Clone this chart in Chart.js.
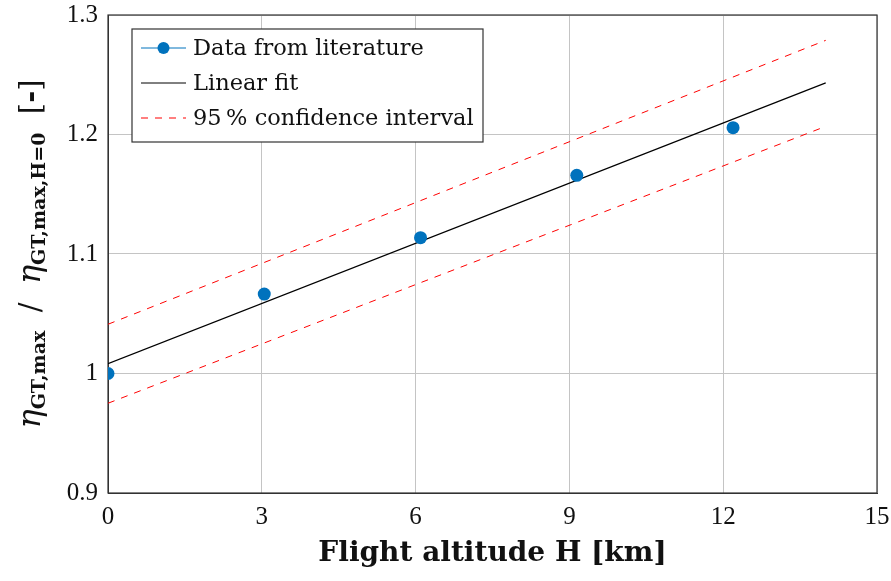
<!DOCTYPE html>
<html lang="en">
<head>
    <meta charset="UTF-8">
    <title>Efficiency vs flight altitude</title>
    <style>
        body { margin: 0; background: #fff; }
        #wrap { width: 891px; height: 581px; }
    </style>
</head>
<body>
    <div id="wrap"><canvas id="myChart" width="891" height="581"></canvas></div>
    <script src="https://cdn.jsdelivr.net/npm/chart.js"></script>
    <script>
        // data
        const altitudes = [0, 3.048, 6.096, 9.144, 12.192];
        const effRatio = [1.0, 1.0665, 1.1137, 1.1658, 1.2057];
        const fitX = [0, 14];
        const fitY = [1.0082, 1.2432];
        const upperY = [1.0412, 1.2788];
        const lowerY = [0.9751, 1.2068];
        const xTicks = [0, 3, 6, 9, 12, 15];
        const yTicks = [0.9, 1.0, 1.1, 1.2, 1.3];
        const legendLabels = ['Data from literature', 'Linear fit', '95\u2009% confidence interval'];

        const serif = '"DejaVu Serif", "Liberation Serif", serif';
        const tickSerif = '"Liberation Serif", serif';
        const blue = '#0072BD';

        const toXY = (xs, ys) => xs.map((x, i) => ({ x: x, y: ys[i] }));

        // draw a run of text pieces with different fonts, centred on (0,0)
        function richText(ctx, parts) {
            let total = 0;
            parts.forEach(p => { ctx.font = p.font; p.w = ctx.measureText(p.text).width; total += p.w; });
            let x = -total / 2;
            parts.forEach(p => {
                ctx.font = p.font;
                ctx.fillText(p.text, x, p.dy || 0);
                x += p.w;
            });
        }

        const decorations = {
            id: 'decorations',
            beforeDatasetsDraw(chart) {
                const { ctx, chartArea: a } = chart;
                ctx.save();
                ctx.strokeStyle = '#333';
                ctx.lineWidth = 1.2;
                ctx.strokeRect(a.left, a.top, a.right - a.left, a.bottom - a.top);
                ctx.restore();
            },
            afterDraw(chart) {
                const { ctx, chartArea: a } = chart;
                ctx.save();
                ctx.fillStyle = '#111';
                ctx.textBaseline = 'middle';

                // x axis title
                ctx.save();
                ctx.translate((a.left + a.right) / 2, 554);
                richText(ctx, [{ text: 'Flight altitude H [km]', font: 'bold 28px ' + serif }]);
                ctx.restore();

                // y axis title
                ctx.save();
                ctx.translate(32, 254);
                ctx.rotate(-Math.PI / 2);
                richText(ctx, [
                    { text: '\u03b7', font: 'italic 32px ' + serif },
                    { text: 'GT,max', font: 'bold 19px ' + serif, dy: 8 },
                    { text: '  /  ', font: '29px ' + serif },
                    { text: '\u03b7', font: 'italic 32px ' + serif },
                    { text: 'GT,max,H=0', font: 'bold 19px ' + serif, dy: 8 },
                    { text: '  [', font: '29px ' + serif },
                    { text: '-', font: 'bold 29px ' + serif },
                    { text: ']', font: '29px ' + serif }
                ]);
                ctx.restore();

                // legend box
                const lx = 132, ly = 29, lw = 351, lh = 113;
                ctx.fillStyle = '#fff';
                ctx.fillRect(lx, ly, lw, lh);
                ctx.strokeStyle = '#333';
                ctx.lineWidth = 1.2;
                ctx.strokeRect(lx, ly, lw, lh);
                const rows = [48, 83, 118];
                ctx.lineWidth = 1;
                // data marker
                ctx.strokeStyle = blue;
                ctx.beginPath(); ctx.moveTo(141, rows[0]); ctx.lineTo(186, rows[0]); ctx.stroke();
                ctx.fillStyle = blue;
                ctx.beginPath(); ctx.arc(163.5, rows[0], 6, 0, Math.PI * 2); ctx.fill();
                // fit
                ctx.strokeStyle = '#000';
                ctx.beginPath(); ctx.moveTo(141, rows[1]); ctx.lineTo(186, rows[1]); ctx.stroke();
                // confidence
                ctx.strokeStyle = '#ff0000';
                ctx.setLineDash([7, 7]);
                ctx.beginPath(); ctx.moveTo(141, rows[2]); ctx.lineTo(186, rows[2]); ctx.stroke();
                ctx.setLineDash([]);
                ctx.fillStyle = '#111';
                ctx.textAlign = 'left';
                ctx.font = '22.5px ' + serif;
                legendLabels.forEach((t, i) => ctx.fillText(t, 193, rows[i] + 1));
                ctx.restore();
            }
        };

        const ctx = document.getElementById('myChart').getContext('2d');
        const chart = new Chart(ctx, {
            type: 'scatter',
            data: {
                datasets: [
                    {
                        label: 'Upper bound',
                        data: toXY(fitX, upperY),
                        showLine: true,
                        borderColor: '#ff0000',
                        borderWidth: 1,
                        borderDash: [7, 7],
                        pointRadius: 0,
                        order: 3
                    },
                    {
                        label: 'Lower bound',
                        data: toXY(fitX, lowerY),
                        showLine: true,
                        borderColor: '#ff0000',
                        borderWidth: 1,
                        borderDash: [7, 7],
                        pointRadius: 0,
                        order: 3
                    },
                    {
                        label: legendLabels[1],
                        data: toXY(fitX, fitY),
                        showLine: true,
                        borderColor: '#000',
                        borderWidth: 1.2,
                        pointRadius: 0,
                        order: 2
                    },
                    {
                        label: legendLabels[0],
                        data: toXY(altitudes, effRatio),
                        showLine: false,
                        backgroundColor: blue,
                        borderColor: blue,
                        pointRadius: 6.5,
                        pointBorderWidth: 0,
                        order: 1
                    }
                ]
            },
            options: {
                responsive: false,
                animation: false,
                layout: { padding: { top: 15, right: 14, left: 0, bottom: 0 } },
                plugins: {
                    legend: { display: false },
                    tooltip: { enabled: false }
                },
                scales: {
                    x: {
                        type: 'linear',
                        min: 0,
                        max: 15,
                        afterBuildTicks: s => { s.ticks = xTicks.map(v => ({ value: v })); },
                        afterFit: s => { s.height = 88; s.paddingLeft = 0; s.paddingRight = 0; },
                        grid: { color: '#c4c4c4', drawTicks: false, tickLength: 0 },
                        border: { color: '#333' },
                        ticks: {
                            padding: 9,
                            color: '#111',
                            font: { family: tickSerif, size: 25 },
                            maxRotation: 0,
                            callback: v => String(v)
                        }
                    },
                    y: {
                        min: 0.9,
                        max: 1.3,
                        afterBuildTicks: s => { s.ticks = yTicks.map(v => ({ value: v })); },
                        afterFit: s => { s.width = 108; s.paddingTop = 0; s.paddingBottom = 0; },
                        grid: { color: '#c4c4c4', drawTicks: false, tickLength: 0 },
                        border: { color: '#333' },
                        ticks: {
                            padding: 10,
                            color: '#111',
                            font: { family: tickSerif, size: 25 },
                            callback: v => (Math.abs(v - 1) < 1e-9 ? '1' : v.toFixed(1))
                        }
                    }
                }
            },
            plugins: [decorations]
        });
    </script>
</body>
</html>
